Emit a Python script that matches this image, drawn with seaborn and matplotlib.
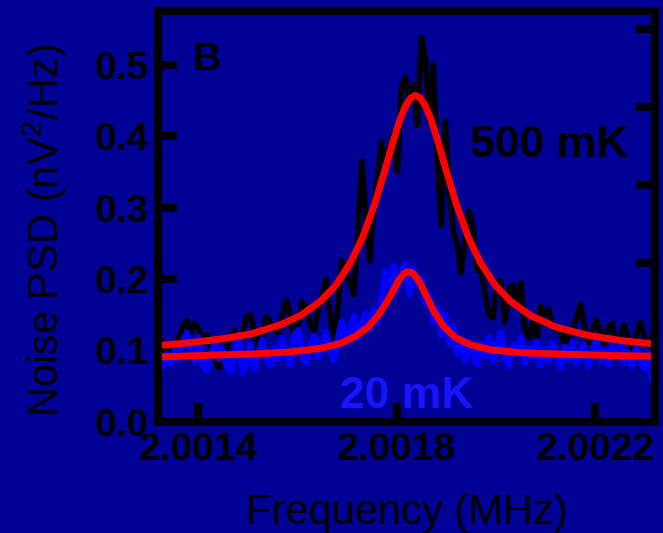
import matplotlib
matplotlib.use('Agg')
import matplotlib.pyplot as plt
import seaborn as sns
import pandas as pd

# frequency sweep (MHz) shared by both measured traces
freq = [2.001322, 2.001330, 2.001338, 2.001346, 2.001354, 2.001362, 2.001370, 2.001378, 2.001386, 2.001394,
        2.001402, 2.001410, 2.001418, 2.001426, 2.001434, 2.001442, 2.001450, 2.001458, 2.001466, 2.001474,
        2.001482, 2.001490, 2.001498, 2.001506, 2.001514, 2.001522, 2.001530, 2.001538, 2.001546, 2.001554,
        2.001562, 2.001570, 2.001578, 2.001586, 2.001594, 2.001602, 2.001610, 2.001618, 2.001626, 2.001634,
        2.001642, 2.001650, 2.001658, 2.001666, 2.001674, 2.001682, 2.001690, 2.001698, 2.001706, 2.001714,
        2.001722, 2.001730, 2.001738, 2.001746, 2.001754, 2.001762, 2.001770, 2.001778, 2.001786, 2.001794,
        2.001802, 2.001810, 2.001818, 2.001826, 2.001834, 2.001842, 2.001850, 2.001858, 2.001866, 2.001874,
        2.001882, 2.001890, 2.001898, 2.001906, 2.001914, 2.001922, 2.001930, 2.001938, 2.001946, 2.001954,
        2.001962, 2.001970, 2.001978, 2.001986, 2.001994, 2.002002, 2.002010, 2.002018, 2.002026, 2.002034,
        2.002042, 2.002050, 2.002058, 2.002066, 2.002074, 2.002082, 2.002090, 2.002098, 2.002106, 2.002114,
        2.002122, 2.002130, 2.002138, 2.002146, 2.002154, 2.002162, 2.002170, 2.002178, 2.002186, 2.002194,
        2.002202, 2.002210, 2.002218, 2.002226, 2.002234, 2.002242, 2.002250, 2.002258, 2.002266, 2.002274,
        2.002282, 2.002290, 2.002298, 2.002306, 2.002314]

# 500 mK noise PSD (nV^2/Hz)
psd_500mk = [0.100, 0.112, 0.095, 0.108, 0.098, 0.118, 0.132, 0.142, 0.125, 0.138,
             0.130, 0.115, 0.122, 0.102, 0.088, 0.076, 0.082, 0.104, 0.118, 0.128,
             0.112, 0.122, 0.146, 0.150, 0.128, 0.098, 0.122, 0.147, 0.140, 0.130,
             0.124, 0.148, 0.170, 0.150, 0.112, 0.138, 0.168, 0.160, 0.138, 0.128,
             0.155, 0.176, 0.200, 0.152, 0.118, 0.160, 0.226, 0.212, 0.195, 0.178,
             0.260, 0.365, 0.290, 0.225, 0.300, 0.345, 0.392, 0.360, 0.385, 0.405,
             0.350, 0.470, 0.482, 0.450, 0.472, 0.415, 0.538, 0.510, 0.420, 0.500,
             0.360, 0.275, 0.420, 0.330, 0.268, 0.250, 0.208, 0.255, 0.295, 0.275,
             0.212, 0.215, 0.180, 0.150, 0.145, 0.195, 0.198, 0.140, 0.185, 0.192,
             0.165, 0.195, 0.130, 0.118, 0.140, 0.118, 0.162, 0.150, 0.158, 0.135,
             0.128, 0.130, 0.108, 0.118, 0.130, 0.145, 0.165, 0.135, 0.110, 0.125,
             0.142, 0.128, 0.110, 0.132, 0.138, 0.105, 0.118, 0.136, 0.120, 0.100,
             0.118, 0.140, 0.122, 0.104, 0.118]

# 20 mK noise PSD (nV^2/Hz)
psd_20mk = [0.088, 0.078, 0.095, 0.082, 0.100, 0.088, 0.112, 0.125, 0.100, 0.085,
            0.118, 0.080, 0.072, 0.095, 0.110, 0.088, 0.102, 0.078, 0.070, 0.094,
            0.122, 0.068, 0.085, 0.108, 0.074, 0.096, 0.115, 0.090, 0.079, 0.104,
            0.088, 0.118, 0.096, 0.080, 0.122, 0.128, 0.095, 0.082, 0.108, 0.120,
            0.090, 0.104, 0.126, 0.098, 0.086, 0.118, 0.140, 0.110, 0.128, 0.148,
            0.118, 0.138, 0.152, 0.130, 0.158, 0.140, 0.175, 0.212, 0.190, 0.218,
            0.185, 0.210, 0.222, 0.178, 0.215, 0.192, 0.200, 0.165, 0.178, 0.140,
            0.160, 0.122, 0.150, 0.110, 0.135, 0.095, 0.118, 0.085, 0.112, 0.098,
            0.080, 0.110, 0.092, 0.118, 0.085, 0.105, 0.125, 0.090, 0.078, 0.108,
            0.096, 0.118, 0.082, 0.104, 0.090, 0.112, 0.079, 0.102, 0.086, 0.110,
            0.094, 0.076, 0.105, 0.088, 0.112, 0.082, 0.098, 0.108, 0.078, 0.096,
            0.115, 0.085, 0.100, 0.080, 0.106, 0.092, 0.110, 0.084, 0.098, 0.078,
            0.104, 0.090, 0.075, 0.098, 0.060]

# fitted curves
fit_500mk_freq = [2.0013216, 2.0013859, 2.0014462, 2.0015065, 2.0015668, 2.0016070, 2.0016472,
                  2.0016774, 2.0017075, 2.0017317, 2.0017558, 2.0017799, 2.0017899, 2.0018000,
                  2.0018080, 2.0018181, 2.0018281, 2.0018382, 2.0018482, 2.0018583, 2.0018683,
                  2.0018764, 2.0018864, 2.0018965, 2.0019206, 2.0019447, 2.0019688,
                  2.0019990, 2.0020291, 2.0020693, 2.0021196, 2.0021799, 2.0022502, 2.0023206]
fit_500mk = [0.107, 0.111, 0.116, 0.123, 0.136, 0.149, 0.169,
             0.191, 0.223, 0.258, 0.304, 0.360, 0.385, 0.408,
             0.425, 0.442, 0.453, 0.457, 0.453, 0.442, 0.425,
             0.408, 0.385, 0.360, 0.304, 0.258, 0.223,
             0.191, 0.169, 0.149, 0.133, 0.122, 0.114, 0.109]

fit_20mk_freq = [2.0013216, 2.0014060, 2.0015065, 2.0015869, 2.0016472, 2.0016874, 2.0017176,
                 2.0017417, 2.0017618, 2.0017779, 2.0017920, 2.0018040, 2.0018141, 2.0018191,
                 2.0018241, 2.0018291, 2.0018342, 2.0018462, 2.0018603, 2.0018764, 2.0018945,
                 2.0019186, 2.0019487, 2.0019889, 2.0020492, 2.0021296, 2.0022301, 2.0023206]
fit_20mk = [0.091, 0.093, 0.095, 0.098, 0.103, 0.110, 0.120,
            0.132, 0.148, 0.165, 0.182, 0.198, 0.207, 0.2095,
            0.210, 0.2095, 0.207, 0.196, 0.176, 0.153, 0.134,
            0.118, 0.108, 0.101, 0.097, 0.095, 0.093, 0.092]

x_ticks = [2.0014, 2.0018, 2.0022]
x_tick_labels = ['2.0014', '2.0018', '2.0022']
y_ticks = [0.0, 0.1, 0.2, 0.3, 0.4, 0.5]
y_tick_labels = ['0.0', '0.1', '0.2', '0.3', '0.4', '0.5']

bg = '#000095'
plt.rcParams['font.family'] = ['Liberation Sans', 'DejaVu Sans']
plt.rcParams['mathtext.fontset'] = 'custom'
plt.rcParams['mathtext.rm'] = 'Liberation Sans'

fig = plt.figure(figsize=(6.63, 5.33), dpi=100, facecolor=bg)
ax = fig.add_axes([0.2383, 0.2083, 0.7496, 0.7711])
ax.set_facecolor(bg)
ax.set_axisbelow(True)

traces = pd.DataFrame({'freq': freq, 'k500': psd_500mk, 'k20': psd_20mk})
sns.lineplot(data=traces, x='freq', y='k500', ax=ax, color='black', lw=4, zorder=2,
             solid_joinstyle='round')
sns.lineplot(data=traces, x='freq', y='k20', ax=ax, color='#0000ff', lw=4.5, zorder=2.2,
             solid_joinstyle='round')
sns.lineplot(x=fit_500mk_freq, y=fit_500mk, ax=ax, color='#ff0000', lw=5, zorder=3,
             solid_joinstyle='round', solid_capstyle='round')
sns.lineplot(x=fit_20mk_freq, y=fit_20mk, ax=ax, color='#ff0000', lw=5, zorder=3,
             solid_joinstyle='round', solid_capstyle='round')

ax.set_xlim(2.00132, 2.00232)
ax.set_ylim(0, 0.575)
ax.set_xticks(x_ticks)
ax.set_xticklabels(x_tick_labels)
ax.set_yticks(y_ticks)
ax.set_yticklabels(y_tick_labels)
ax.tick_params(axis='both', direction='in', length=14, width=5.8, color='black',
               labelsize=28, labelcolor='black', pad=7)
for lab in ax.get_xticklabels() + ax.get_yticklabels():
    lab.set_fontweight('bold')

for s in ax.spines.values():
    s.set_linewidth(5.8)
    s.set_color('black')
    s.set_capstyle('projecting')
    s.set_zorder(4)

ax.set_xlabel('Frequency (MHz)', fontsize=30, color='black')
ax.set_ylabel('Noise PSD (nV$^2$/Hz)', fontsize=30, color='black')
ax.xaxis.set_label_coords(0.501, -0.173)
ax.yaxis.set_label_coords(-0.227, 0.467)
ax.yaxis.label.set_va('center')

ax.text(0.07, 0.856, 'B', transform=ax.transAxes, fontsize=28, fontweight='bold',
        color='black', ha='left', va='baseline')
ax.text(0.628, 0.645, '500 mK', transform=ax.transAxes, fontsize=32, fontweight='bold',
        color='black', ha='left', va='baseline')
ax.text(0.366, 0.034, '20 mK', transform=ax.transAxes, fontsize=32, fontweight='bold',
        color='#1515ff', ha='left', va='baseline', zorder=0.4)

# unlabelled ticks on the right-hand spine
ax2 = ax.twinx()
ax2.set_ylim(-0.038, 5.231)
ax2.set_yticks([2, 3, 4, 5])
ax2.tick_params(axis='y', direction='in', length=14, width=5.8, color='black', labelright=False)
for s in ax2.spines.values():
    s.set_visible(False)

fig.savefig('out.png', dpi=100, facecolor=bg)
